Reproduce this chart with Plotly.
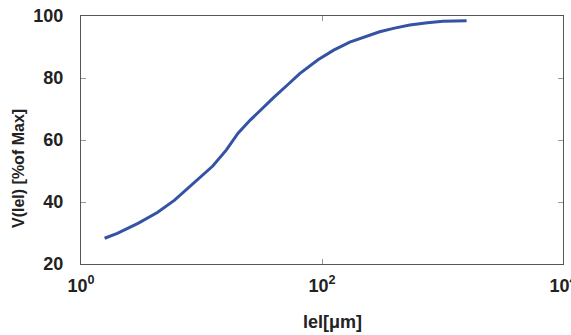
import plotly.graph_objects as go

size_um = [1.57, 2.0, 2.97, 4.3, 5.98, 8.2, 10.6, 12.4, 16.1, 20.1, 25.5, 31.4, 40.0,
           52.2, 65.3, 92.7, 125, 170, 230, 301, 400, 535, 750, 1009, 1585]
volume_pct = [28.3, 29.9, 33.1, 36.6, 40.6, 45.3, 49.1, 51.6, 56.8, 62.2, 66.5, 70.0, 73.8,
              77.9, 81.4, 85.9, 89.0, 91.6, 93.4, 94.9, 96.1, 97.1, 97.8, 98.3, 98.5]

x_tickvals = [1, 100, 10000]
x_ticktext = ["<b>10<sup>0</sup></b>", "<b>10<sup>2</sup></b>", "<b>10<sup>4</sup></b>"]
y_tickvals = [20, 40, 60, 80, 100]
y_ticktext = ["<b>20</b>", "<b>40</b>", "<b>60</b>", "<b>80</b>", "<b>100</b>"]

fig = go.Figure()
fig.add_trace(go.Scatter(x=size_um, y=volume_pct, mode="lines",
                         line=dict(color="#3453a4", width=3),
                         showlegend=False))

tf = dict(size=18, family="Liberation Sans, Arial, sans-serif", color="#222", weight="bold")
fig.update_layout(
    width=571, height=335,
    margin=dict(l=81, r=8, t=16, b=71),
    plot_bgcolor="white", paper_bgcolor="white",
    font=dict(family="Liberation Sans, Arial, sans-serif", size=17, color="#222"),
    xaxis=dict(type="log", range=[0, 4], tickvals=x_tickvals, ticktext=x_ticktext,
               ticks="inside", ticklen=5, tickcolor="#999", mirror="ticks",
               showline=True, linecolor="#555", linewidth=1, showgrid=False,
               zeroline=False, tickfont=tf, ticklabelstandoff=5,
               ticklabeloverflow="allow", automargin=False),
    yaxis=dict(range=[20, 100], tickvals=y_tickvals, ticktext=y_ticktext,
               ticks="inside", ticklen=5, tickcolor="#999", mirror="ticks",
               showline=True, linecolor="#555", linewidth=1, showgrid=False,
               zeroline=False, tickfont=tf, ticklabelstandoff=13,
               ticklabeloverflow="allow", automargin=False),
)

fig.add_annotation(text="<b>lel[μm]</b>", xref="paper", yref="paper",
                   x=(332 - 81) / (571 - 81 - 8), y=-(322 - 264) / (264 - 16),
                   showarrow=False, font=dict(size=18, family="Liberation Sans", color="#222"),
                   xanchor="center", yanchor="middle")
fig.add_annotation(text="<b>V(lel) [%of Max]</b>", xref="paper", yref="paper",
                   x=-(81 - 18) / (571 - 81 - 8), y=(264 - 168) / (264 - 16),
                   textangle=-90, showarrow=False,
                   font=dict(size=16, family="Liberation Sans", color="#222"),
                   xanchor="center", yanchor="middle")

fig.write_html("out.html")
